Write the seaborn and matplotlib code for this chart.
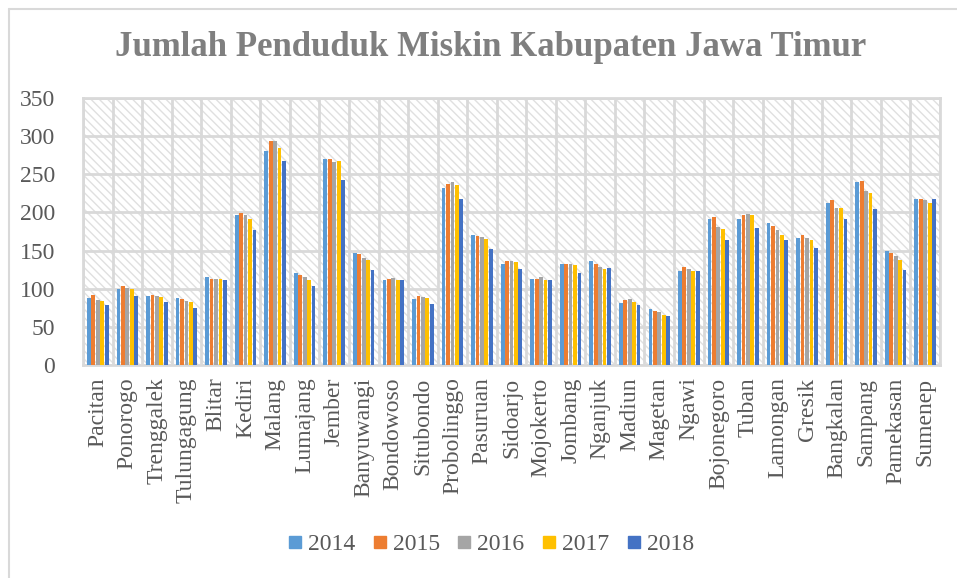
import numpy as np
import pandas as pd
import matplotlib
matplotlib.use('Agg')
import matplotlib.pyplot as plt
import seaborn as sns
from matplotlib.patches import Rectangle
from matplotlib.lines import Line2D

# Data: poor population per regency (thousands)
regencies = ['Pacitan', 'Ponorogo', 'Trenggalek', 'Tulungagung', 'Blitar', 'Kediri',
             'Malang', 'Lumajang', 'Jember', 'Banyuwangi', 'Bondowoso', 'Situbondo',
             'Probolinggo', 'Pasuruan', 'Sidoarjo', 'Mojokerto', 'Jombang', 'Nganjuk',
             'Madiun', 'Magetan', 'Ngawi', 'Bojonegoro', 'Tuban', 'Lamongan', 'Gresik',
             'Bangkalan', 'Sampang', 'Pamekasan', 'Sumenep']
years = ['2014', '2015', '2016', '2017', '2018']

v2014 = [88, 99, 90, 88, 116, 197, 280, 120, 270, 147, 112, 87, 232, 170, 133,
         113, 133, 136, 81, 73, 123, 191, 191, 186, 167, 212, 240, 149, 218]
v2015 = [92, 103, 92, 87, 113, 199, 293, 118, 270, 146, 113, 91, 237, 169, 136,
         113, 133, 132, 85, 71, 129, 194, 196, 182, 170, 216, 241, 147, 217]
v2016 = [85, 101, 90, 84, 113, 196, 293, 116, 266, 140, 114, 89, 240, 168, 136,
         115, 133, 128, 86, 69, 126, 181, 198, 177, 167, 206, 228, 143, 216]
v2017 = [84, 99, 89, 82, 113, 191, 284, 112, 267, 138, 111, 88, 236, 165, 135,
         111, 131, 126, 83, 65, 123, 178, 196, 171, 164, 206, 225, 137, 212]
v2018 = [78, 90, 83, 75, 112, 177, 268, 104, 243, 125, 111, 80, 218, 152, 126,
         111, 120, 127, 78, 64, 123, 164, 179, 164, 154, 192, 205, 125, 218]

colors = ['#5B9BD5', '#ED7D31', '#A5A5A5', '#FFC000', '#4472C4']

df = pd.DataFrame({'2014': v2014, '2015': v2015, '2016': v2016,
                   '2017': v2017, '2018': v2018}, index=regencies)
long = df.reset_index().melt(id_vars='index', var_name='tahun', value_name='jumlah')
long = long.rename(columns={'index': 'kabupaten'})

sns.set_style('white')
plt.rcParams['font.family'] = ['Liberation Serif', 'DejaVu Serif']
plt.rcParams['hatch.linewidth'] = 1.0

fig = plt.figure(figsize=(9.57, 5.78), dpi=100)
ax = fig.add_axes([83/957, 1-365/578, (940-83)/957, (365-98)/578])

# hatched plot background
ax.add_patch(Rectangle((0, 0), 1, 1, transform=ax.transAxes, facecolor='white',
                       edgecolor='#e0e0e0', lw=0, hatch='\\\\\\\\', zorder=0))

sns.barplot(data=long, x='kabupaten', y='jumlah', hue='tahun', palette=colors,
            order=regencies, hue_order=years, width=0.75, gap=0.15,
            saturation=1, legend=False, ax=ax, zorder=3, linewidth=0)

ax.set_ylim(0, 350)
ax.set_xlim(-0.5, len(regencies) - 0.5)
ax.set_yticks(np.arange(0, 351, 50))
ax.set_xticks(np.arange(-0.5, len(regencies), 1), minor=True)
ax.set_axisbelow(True)
ax.grid(axis='y', which='major', color='#d9d9d9', lw=2)
ax.grid(axis='x', which='minor', color='#d9d9d9', lw=2)
ax.tick_params(axis='both', which='both', length=0, labelsize=17, colors='#595959')
ax.tick_params(axis='x', labelrotation=90, pad=9)
ax.tick_params(axis='y', pad=20)
ax.set_xlabel('')
ax.set_ylabel('')
for s in ax.spines.values():
    s.set_color('#d9d9d9')
    s.set_linewidth(2)

fig.text(491/957, 1-48/578, 'Jumlah Penduduk Miskin Kabupaten Jawa Timur',
         ha='center', va='center', fontsize=25, fontweight='bold', color='#7f7f7f')

handles = [Line2D([], [], marker='s', ls='', color=c, markersize=8) for c in colors]
fig.legend(handles, years, loc='center', bbox_to_anchor=(0.513, 1-544/578), ncol=5,
           frameon=False, fontsize=17, handlelength=0.6, handletextpad=0.25,
           columnspacing=0.75, labelcolor='#595959')

# outer chart border (only left and top edges visible)
fig.add_artist(Line2D([8.5/957, 8.5/957], [0, 1-8.5/578], transform=fig.transFigure,
                      color='#d9d9d9', lw=1.5))
fig.add_artist(Line2D([8.5/957, 1], [1-8.5/578, 1-8.5/578], transform=fig.transFigure,
                      color='#d9d9d9', lw=1.5))

fig.savefig('out.png', dpi=100)
